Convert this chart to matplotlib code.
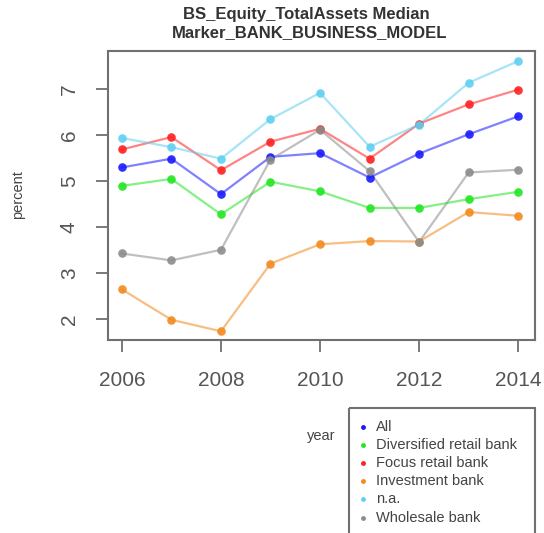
import matplotlib
matplotlib.use("Agg")
import matplotlib.pyplot as plt
from matplotlib.patches import Rectangle

plt.rcParams['font.family'] = ['Liberation Sans', 'DejaVu Sans']

years = [2006, 2007, 2008, 2009, 2010, 2011, 2012, 2013, 2014]

series_names = ["All", "Diversified retail bank", "Focus retail bank",
                "Investment bank", "n.a.", "Wholesale bank"]

all_banks = [5.30, 5.49, 4.72, 5.53, 5.61, 5.08, 5.60, 6.02, 6.41]
diversified = [4.90, 5.05, 4.28, 4.99, 4.78, 4.42, 4.42, 4.61, 4.77]
focus_retail = [5.69, 5.96, 5.24, 5.86, 6.14, 5.49, 6.25, 6.67, 6.99]
investment = [2.65, 1.99, 1.74, 3.21, 3.63, 3.70, 3.69, 4.33, 4.25]
not_available = [5.94, 5.74, 5.49, 6.35, 6.92, 5.75, 6.23, 7.14, 7.61]
wholesale = [3.43, 3.28, 3.51, 5.47, 6.12, 5.22, 3.68, 5.19, 5.25]

series_values = [all_banks, diversified, focus_retail, investment,
                 not_available, wholesale]
colors = ["#1a1aff", "#22e622", "#ff2020", "#f28a1e", "#5fd0f0", "#8c8c8c"]

x_ticks = [2006, 2008, 2010, 2012, 2014]
y_ticks = [2, 3, 4, 5, 6, 7]

W, H = 544, 533
fig = plt.figure(figsize=(W / 100, H / 100), dpi=100)
ax = fig.add_axes([108 / W, 1 - 340 / H, (535 - 108) / W, (340 - 51) / H])

for vals, col in zip(series_values, colors):
    ax.plot(years, vals, color=col, lw=1.6, alpha=0.55, zorder=2)
    ax.plot(years, vals, linestyle="none", marker="o", ms=6.2,
            color=col, alpha=0.9, markeredgewidth=0, zorder=3)

ax.set_xlim(2005.72, 2014.34)
ax.set_ylim(1.55, 7.83)
ax.set_xticks(x_ticks)
ax.set_yticks(y_ticks)
ax.set_xticklabels([str(v) for v in x_ticks], fontsize=15, color="#555555")
ax.set_yticklabels([str(v) for v in y_ticks], fontsize=15, color="#555555",
                   rotation=90, va="center")
ax.tick_params(axis="both", length=8.5, width=1.3, color="#707070")
ax.tick_params(axis="x", pad=14)
ax.tick_params(axis="y", pad=12.5)
for sp in ax.spines.values():
    sp.set_color("#707070")
    sp.set_linewidth(1.5)

# overlay in pixel coordinates for titles, axis labels and the legend box
ov = fig.add_axes([0, 0, 1, 1], facecolor="none")
ov.set_xlim(0, W)
ov.set_ylim(H, 0)
ov.axis("off")

ov.text(306, 15, "BS_Equity_TotalAssets Median", ha="center", va="center",
        fontsize=12, fontweight="bold", color="#333333")
ov.text(310, 33, "Marker_BANK_BUSINESS_MODEL", ha="center", va="center",
        fontsize=12, fontweight="bold", color="#333333")
ov.text(18, 195, "percent", ha="center", va="center", rotation=90,
        fontsize=10.5, color="#444444")
ov.text(321, 436, "year", ha="center", va="center", fontsize=10.5,
        color="#444444")

ov.add_patch(Rectangle((349, 408), 186, 135, fill=False,
                       edgecolor="#707070", lw=1.5))
for i, (name, col) in enumerate(zip(series_names, colors)):
    yy = 427 + i * 18.1
    ov.plot([363], [yy], marker="o", ms=3.5, color=col,
            markeredgewidth=0, linestyle="none")
    ov.text(376, yy, name, ha="left", va="center", fontsize=10.5,
            color="#444444")

fig.savefig("out.png", dpi=100)
